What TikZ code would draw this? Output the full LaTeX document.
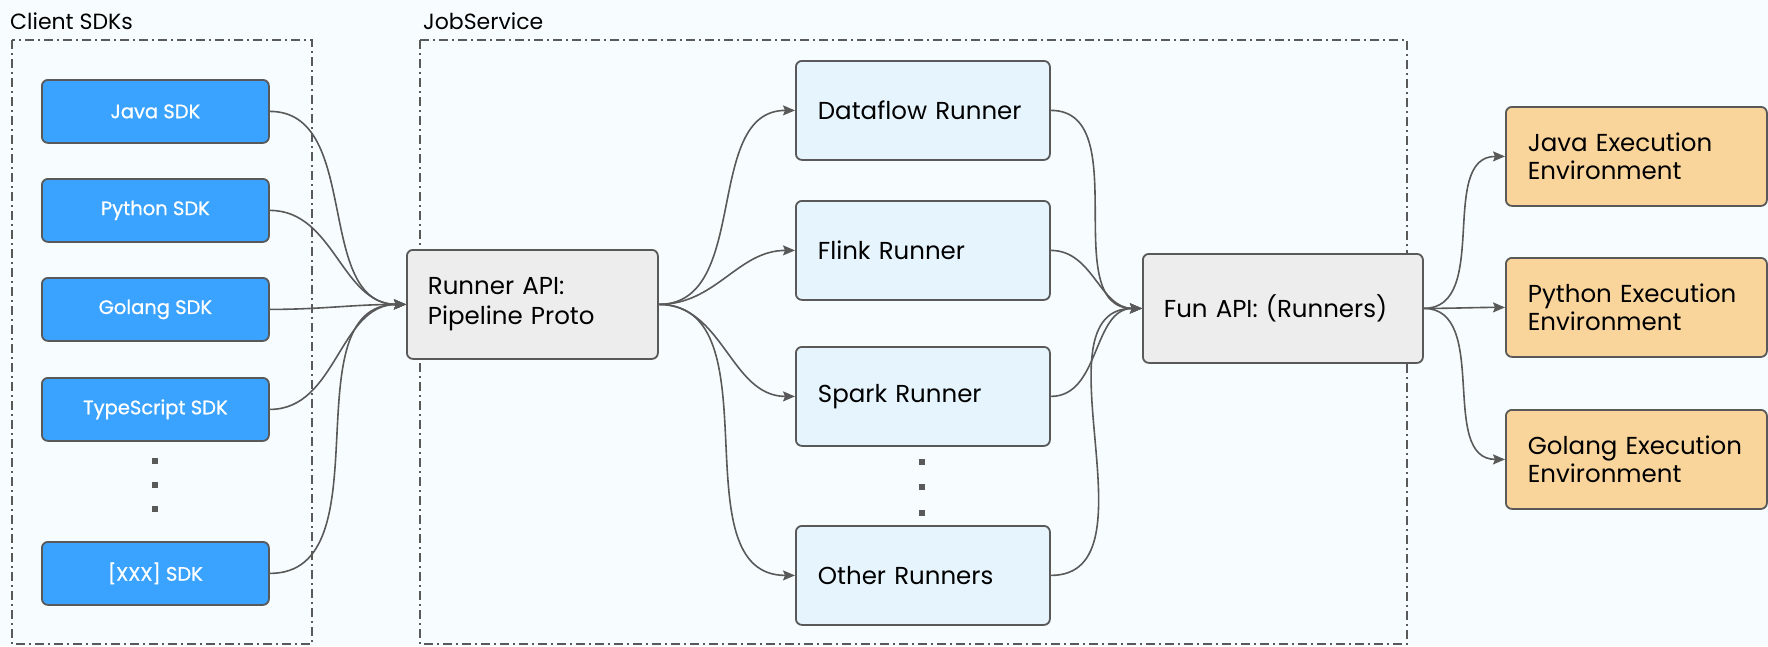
\documentclass[tikz,border=0pt]{standalone}
\usepackage{fontspec}
\setmainfont{Poppins}
\newfontfamily\sdkfont[FakeBold=0.8]{Poppins}
\usetikzlibrary{arrows.meta}
\definecolor{bg}{HTML}{F7FDFE}
\definecolor{sdkblue}{HTML}{3AA3FF}
\definecolor{runnerfill}{HTML}{E6F4FD}
\definecolor{greyfill}{HTML}{EEEDED}
\definecolor{execfill}{HTML}{FAD59B}
\definecolor{edge}{HTML}{595959}
\tikzset{
  box/.style={draw=edge, line width=1.8pt, rounded corners=6pt, anchor=north west, inner ysep=0pt},
  sdkbox/.style={box, fill=sdkblue, text=white, minimum width=227pt, minimum height=63pt, font=\sdkfont\fontsize{19.5}{22}\selectfont},
  runnerbox/.style={box, fill=runnerfill, text width=210pt, inner xsep=22pt, align=left, minimum height=99pt, font=\fontsize{24.5}{30}\selectfont},
  greybox/.style={box, fill=greyfill, align=left, minimum height=109pt, font=\fontsize{24.5}{30}\selectfont},
  execbox/.style={box, fill=execfill, text width=217pt, inner xsep=22pt, align=left, minimum height=99pt, font=\fontsize{24.5}{28}\selectfont},
  group/.style={draw=edge, line width=1.5pt, dash pattern=on 9pt off 4pt on 2pt off 4pt},
  grouplabel/.style={anchor=base west, inner sep=0pt, font=\fontsize{22}{26}\selectfont},
  conn/.style={draw=edge, line width=1.6pt, -{Stealth[length=12pt,width=10pt,inset=2pt]}},
  dotmark/.style={fill=edge, minimum size=6pt, inner sep=0pt},
}
\begin{document}
\begin{tikzpicture}[x=1pt,y=-1pt]
\fill[bg] (0,0) rectangle (1768,646);
\useasboundingbox (0,0) rectangle (1768,646);
% groups
\draw[group] (12,40) rectangle (312,644);
\draw[group] (420,40) rectangle (1407,644);
\node[grouplabel] (lclient) at (10,29) {Client SDKs};
\node[grouplabel] (ljob) at (423,29) {JobService};
% SDKs
\node[sdkbox] (java) at (41,79) {Java SDK};
\node[sdkbox] (python) at (41,178) {Python SDK};
\node[sdkbox] (golang) at (41,277) {Golang SDK};
\node[sdkbox] (ts) at (41,377) {TypeScript SDK};
\node[sdkbox] (xxx) at (41,541) {[XXX] SDK};
\node[dotmark] (sd1) at (155,461) {};
\node[dotmark] (sd2) at (155,485) {};
\node[dotmark] (sd3) at (155,509) {};
% Runner API
\node[greybox, text width=209pt, inner xsep=21pt] (rapi) at (406,249) {Runner API:\\Pipeline Proto};
% Runners
\node[runnerbox] (dataflow) at (795,60) {Dataflow Runner};
\node[runnerbox] (flink) at (795,200) {Flink Runner};
\node[runnerbox] (spark) at (795,346) {Spark Runner};
\node[runnerbox] (other) at (795,525) {Other Runners};
\node[dotmark] (rd1) at (922,462) {};
\node[dotmark] (rd2) at (922,487) {};
\node[dotmark] (rd3) at (922,513) {};
% Fun API
\node[greybox, text width=238pt, inner xsep=21pt] (fapi) at (1142,253) {Fun API: (Runners)};
% Exec envs
\node[execbox] (jexec) at (1505,106) {Java Execution\\Environment};
\node[execbox] (pexec) at (1505,257) {Python Execution\\Environment};
\node[execbox] (gexec) at (1505,409) {Golang Execution\\Environment};
% connectors
\foreach \s in {java,python,golang,ts,xxx}
  \draw[conn] (\s.east) to[out=0,in=180] (rapi.west);
\foreach \r in {dataflow,flink,spark,other}
  \draw[conn] (rapi.east) to[out=0,in=180] (\r.west);
\foreach \r in {dataflow,flink,spark,other}
  \draw[conn] (\r.east) to[out=0,in=180] (fapi.west);
\foreach \e in {jexec,pexec,gexec}
  \draw[conn] (fapi.east) to[out=0,in=180] (\e.west);
\end{tikzpicture}
\end{document}
